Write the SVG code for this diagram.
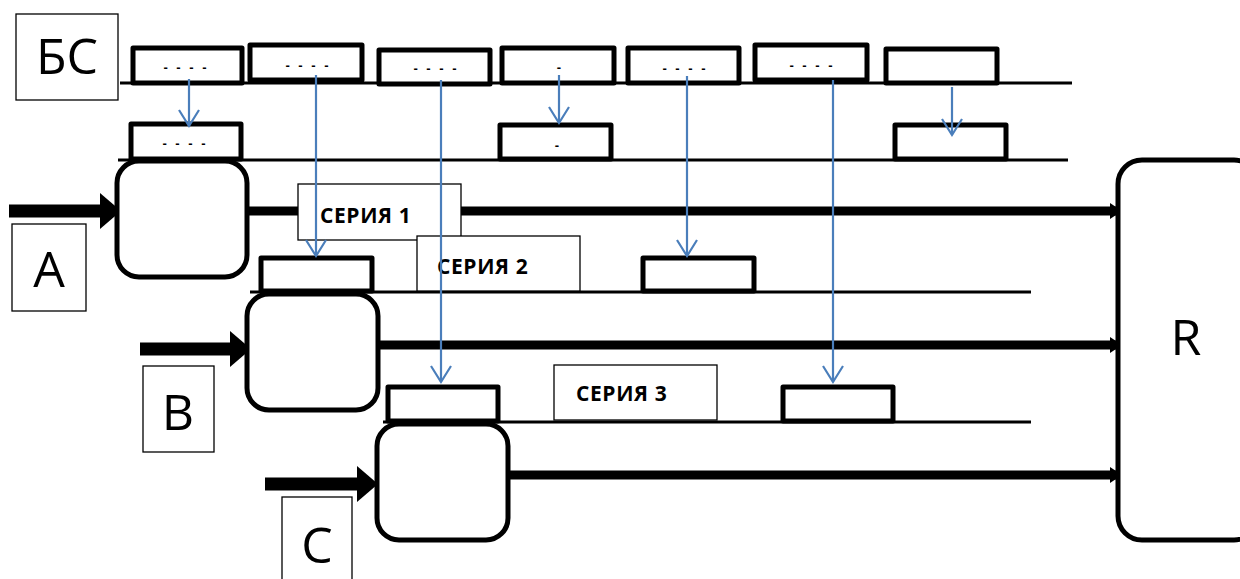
<svg xmlns="http://www.w3.org/2000/svg" width="1240" height="579" viewBox="0 0 1240 579">
  <defs>
    <style>
      .frame { fill: #fff; stroke: #000; stroke-width: 1.3; }
      .slot { fill: #fff; stroke: #000; stroke-width: 5; stroke-linejoin: round; }
      .unit { fill: #fff; stroke: #000; stroke-width: 5; }
      .track { stroke: #000; stroke-width: 3; fill: none; }
      .flow { stroke: #000; stroke-width: 9; fill: none; }
      .feed { stroke: #000; stroke-width: 13; fill: none; }
      .link { stroke: #4a7ebb; stroke-width: 2.2; fill: none; marker-end: url(#vhead); }
      .big { font-family: "Open Sans", "Liberation Sans", sans-serif; font-size: 50px; fill: #000; text-anchor: middle; }
      .tag { font-family: "Open Sans", "Liberation Sans", sans-serif; font-size: 21px; font-weight: bold; fill: #000; letter-spacing: 0.6px; }
      .dots { font-family: "Liberation Sans", sans-serif; font-size: 13px; font-weight: bold; fill: #000; text-anchor: middle; word-spacing: 5px; }
    </style>
    <marker id="vhead" markerUnits="userSpaceOnUse" markerWidth="24" markerHeight="24" refX="20" refY="12" orient="auto">
      <path d="M4,2 L20,12 L4,22" fill="none" stroke="#4a7ebb" stroke-width="2.2"/>
    </marker>
    <marker id="tip" markerUnits="userSpaceOnUse" markerWidth="14" markerHeight="20" refX="12" refY="10" orient="auto">
      <path d="M0,2 L12,10 L0,18 Z" fill="#000"/>
    </marker>
  </defs>

  <!-- base tracks -->
  <g id="tracks">
    <line class="track" x1="120" y1="83" x2="1072" y2="83"/>
    <line class="track" x1="118" y1="160" x2="1068" y2="160"/>
    <line class="track" x1="250" y1="292" x2="1031" y2="292"/>
    <line class="track" x1="383" y1="422" x2="1031" y2="422"/>
  </g>

  <!-- output lines into R -->
  <g id="outputs">
    <line class="flow" x1="247" y1="211" x2="1122" y2="211" marker-end="url(#tip)"/>
    <line class="flow" x1="378" y1="345" x2="1122" y2="345" marker-end="url(#tip)"/>
    <line class="flow" x1="508" y1="475" x2="1122" y2="475" marker-end="url(#tip)"/>
  </g>

  <!-- input arrows -->
  <g id="inputs">
    <line class="feed" x1="9" y1="211" x2="102" y2="211"/>
    <path d="M100,193 L121,211 L100,229 Z"/>
    <line class="feed" x1="140" y1="349" x2="232" y2="349"/>
    <path d="M230,331 L251,349 L230,367 Z"/>
    <line class="feed" x1="265" y1="484" x2="359" y2="484"/>
    <path d="M357,466 L378,484 L357,502 Z"/>
  </g>

  <!-- labels -->
  <g id="node-bs"><rect class="frame" x="16" y="14" width="102" height="86"/><text class="big" x="67" y="74">БС</text></g>
  <g id="node-a"><rect class="frame" x="12" y="224" width="74" height="87"/><text class="big" x="49" y="287">A</text></g>
  <g id="node-b"><rect class="frame" x="143" y="366" width="71" height="86"/><text class="big" x="178" y="430">B</text></g>
  <g id="node-c"><rect class="frame" x="282" y="497" width="70" height="90"/><text class="big" x="317" y="563">C</text></g>

  <!-- processing units -->
  <g id="unit-a"><rect class="unit" x="117" y="161" width="130" height="116" rx="22"/></g>
  <g id="unit-b"><rect class="unit" x="247" y="294" width="131" height="116" rx="22"/></g>
  <g id="unit-c"><rect class="unit" x="377" y="424" width="131" height="116" rx="22"/></g>
  <g id="node-r"><rect class="unit" x="1118" y="160" width="140" height="380" rx="24"/><text class="big" x="1186" y="355">R</text></g>

  <!-- top row slots -->
  <g id="slot-1"><rect class="slot" x="133" y="48" width="109" height="35"/><text class="dots" x="185" y="72">- - - -</text></g>
  <g id="slot-2"><rect class="slot" x="250" y="45" width="112" height="35"/><text class="dots" x="307" y="70">- - - -</text></g>
  <g id="slot-3"><rect class="slot" x="379" y="50" width="111" height="34"/><text class="dots" x="435" y="73">- - - -</text></g>
  <g id="slot-4"><rect class="slot" x="502" y="48" width="112" height="35"/><text class="dots" x="559" y="72">-</text></g>
  <g id="slot-5"><rect class="slot" x="628" y="48" width="111" height="35"/><text class="dots" x="684" y="73">- - - -</text></g>
  <g id="slot-6"><rect class="slot" x="755" y="45" width="112" height="35"/><text class="dots" x="811" y="70">- - - -</text></g>
  <g id="slot-7"><rect class="slot" x="886" y="49" width="111" height="34"/></g>

  <!-- second row slots -->
  <g id="slot-a"><rect class="slot" x="131" y="124" width="110" height="35"/><text class="dots" x="184" y="148">- - - -</text></g>
  <g id="slot-b"><rect class="slot" x="500" y="125" width="111" height="34"/><text class="dots" x="557" y="150">-</text></g>
  <g id="slot-c"><rect class="slot" x="895" y="125" width="111" height="34"/></g>

  <!-- series row slots -->
  <g id="slot-s2a"><rect class="slot" x="261" y="258" width="111" height="33"/></g>
  <g id="slot-s2b"><rect class="slot" x="643" y="258" width="111" height="33"/></g>
  <g id="slot-s3a"><rect class="slot" x="388" y="387" width="110" height="34"/></g>
  <g id="slot-s3b"><rect class="slot" x="783" y="387" width="110" height="34"/></g>

  <!-- series labels -->
  <g id="series-1"><rect class="frame" x="298" y="184" width="163" height="56"/><text class="tag" x="320" y="223">СЕРИЯ 1</text></g>
  <g id="series-2"><rect class="frame" x="417" y="236" width="163" height="55"/><text class="tag" x="437" y="274">СЕРИЯ 2</text></g>
  <g id="series-3"><rect class="frame" x="554" y="365" width="163" height="55"/><text class="tag" x="576" y="401">СЕРИЯ 3</text></g>

  <!-- transfer connectors -->
  <g id="connectors">
    <line class="link" x1="189" y1="79" x2="189" y2="126"/>
    <line class="link" x1="316" y1="75" x2="316" y2="256"/>
    <line class="link" x1="441" y1="80" x2="441" y2="382"/>
    <line class="link" x1="559" y1="75" x2="559" y2="123"/>
    <line class="link" x1="687" y1="76" x2="687" y2="256"/>
    <line class="link" x1="833" y1="80" x2="833" y2="382"/>
    <line class="link" x1="952" y1="87" x2="952" y2="135"/>
  </g>
</svg>
